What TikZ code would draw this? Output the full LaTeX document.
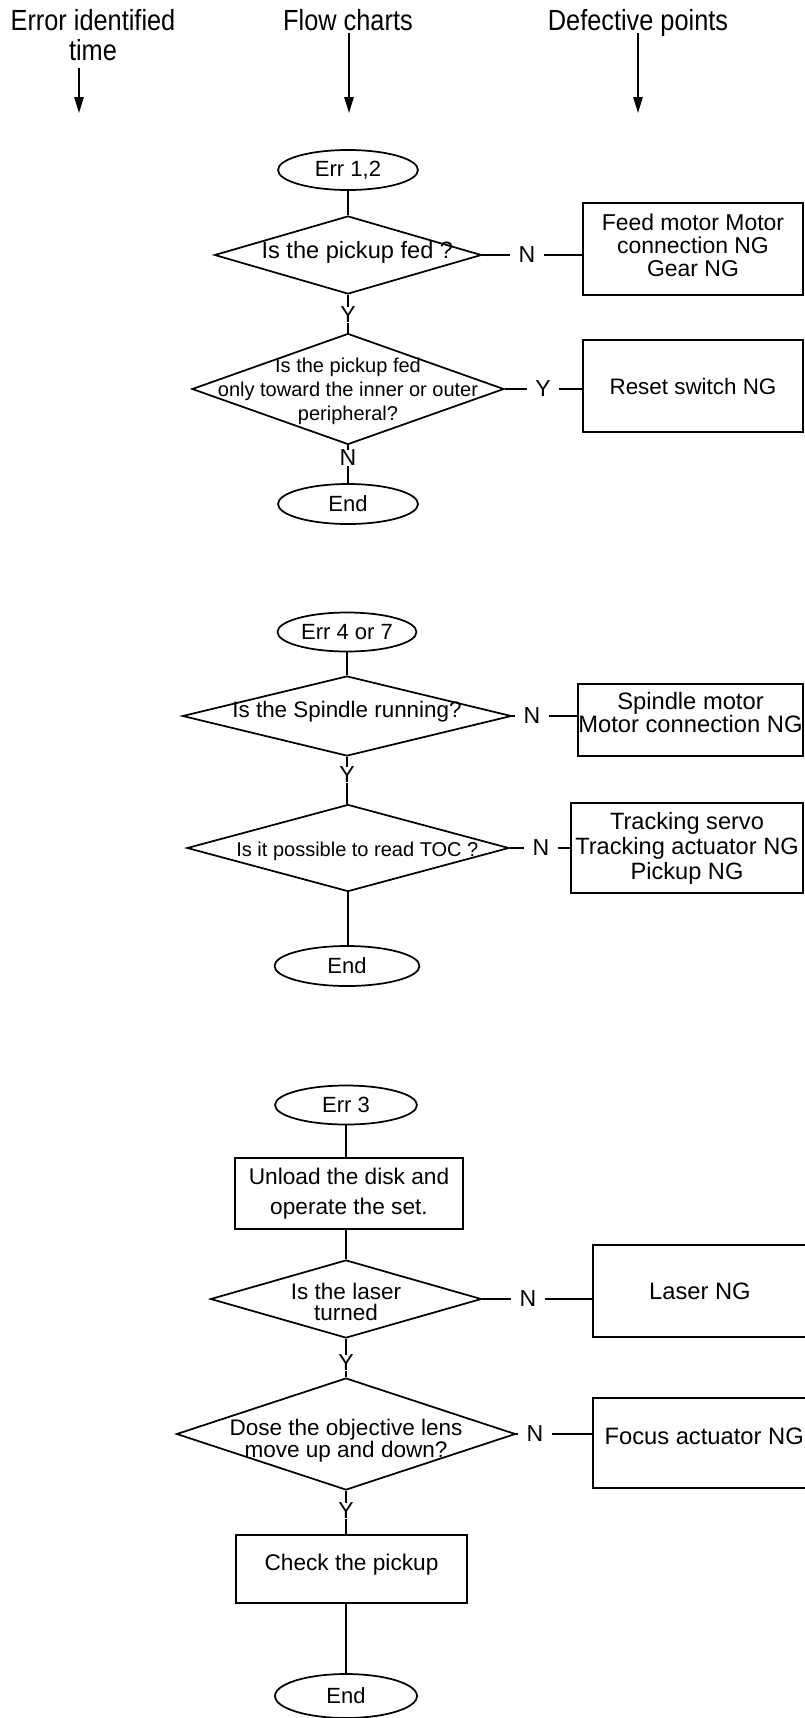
\documentclass[tikz,border=0pt]{standalone}
\usepackage{fontspec}
\setmainfont{Liberation Sans}
\usetikzlibrary{shapes.geometric,arrows.meta}
\newcommand\txtfont[2]{\fontsize{#1}{#2}\selectfont}
\begin{document}
\begin{tikzpicture}[x=0.75pt,y=-0.75pt,
  lw/.style={line width=1.3pt},
  term/.style={ellipse,draw,lw,inner sep=0pt,font=\txtfont{16.5}{18}},
  proc/.style={rectangle,draw,lw,inner sep=0pt},
  dec/.style={diamond,draw,lw,inner sep=0pt},
  txt/.style={align=center,inner sep=0pt},
  yn/.style={inner xsep=6pt,inner ysep=0pt,font=\txtfont{17.3}{18}},
  conn/.style={lw},
  hdarrow/.style={lw,-{Triangle[length=12pt,width=7pt]}},
  hdtext/.style={inner sep=0pt,anchor=base,font=\fontsize{19}{22}\selectfont},
]
\useasboundingbox (0,0) rectangle (805,1718);
\fill[white] (0,0) rectangle (805,1718);

% ---------- header ----------
\node[hdtext] (h1a) at (93,30) {\scalebox{1}[1.15]{Error identified}};
\node[hdtext] (h1b) at (93,60) {\scalebox{1}[1.15]{time}};
\node[hdtext] (h2) at (348,30) {\scalebox{1}[1.15]{Flow charts}};
\node[hdtext] (h3) at (638,30) {\scalebox{1}[1.15]{Defective points}};
\coordinate (s1) at (79,68);  \coordinate (a1) at (79,113);
\coordinate (s2) at (349,33); \coordinate (a2) at (349,113);
\coordinate (s3) at (638,33); \coordinate (a3) at (638,113);
\draw[hdarrow] (s1) -- (a1);
\draw[hdarrow] (s2) -- (a2);
\draw[hdarrow] (s3) -- (a3);

% ---------- chart 1 ----------
\node[term,minimum width=140*0.75pt,minimum height=40*0.75pt] (e12) at (348,170) {Err 1,2};
\node[dec,minimum width=267*0.75pt,minimum height=78*0.75pt,
  label={[txt,xshift=7pt,yshift=2pt,font=\txtfont{17.7}{18}]center:{Is the pickup fed ?}}] (d1) at (348,255) {};
\node[yn] (n1) at (527,255) {N};
\node[proc,minimum width=220*0.75pt,minimum height=92*0.75pt,
  label={[txt,yshift=3pt,font=\txtfont{17.2}{17.25}]center:{Feed motor Motor\\connection NG\\Gear NG}}] (b1) at (693,249) {};
\node[yn] (y1) at (348,315) {Y};
\node[dec,minimum width=312*0.75pt,minimum height=111*0.75pt,
  label={[txt,yshift=-1.5pt,font=\txtfont{15}{18}]center:{Is the pickup fed\\only toward the inner or outer\\peripheral?}}] (d2) at (348,389) {};
\node[yn] (y2) at (543,389) {Y};
\node[proc,minimum width=220*0.75pt,minimum height=92*0.75pt,
  label={[txt,font=\txtfont{16.8}{18}]center:{Reset switch NG}}] (b2) at (693,386) {};
\node[yn] (n2) at (348,458) {N};
\node[term,minimum width=140*0.75pt,minimum height=40*0.75pt] (end1) at (348,504) {End};

\draw[conn] (e12.south) -- (d1.north);
\draw[conn] (d1.east) -- (n1.west);
\draw[conn] (n1.east) -- (n1.east -| b1.west);
\draw[conn] (d1.south) -- (y1.north);
\draw[conn] (y1.south) -- (d2.north);
\draw[conn] (d2.east) -- (y2.west);
\draw[conn] (y2.east) -- (y2.east -| b2.west);
\draw[conn] (d2.south) -- (n2.north);
\draw[conn] (n2.south) -- (end1.north);

% ---------- chart 2 ----------
\node[term,minimum width=139*0.75pt,minimum height=39*0.75pt] (e47) at (347,632) {Err 4 or 7};
\node[dec,minimum width=329*0.75pt,minimum height=80*0.75pt,
  label={[txt,yshift=3pt,font=\txtfont{16.8}{18}]center:{Is the Spindle running?}}] (d3) at (347,716) {};
\node[yn] (n3) at (532,716) {N};
\node[proc,minimum width=225*0.75pt,minimum height=72*0.75pt,
  label={[txt,yshift=5.6pt,font=\txtfont{17.8}{15.75}]center:{Spindle motor\\Motor connection NG}}] (b3) at (690.5,720) {};
\node[yn] (y3) at (347,775) {Y};
\node[dec,minimum width=322*0.75pt,minimum height=87*0.75pt,
  label={[txt,xshift=7pt,yshift=-2.5pt,font=\txtfont{15}{18}]center:{Is it possible to read TOC ?}}] (d4) at (348,848) {};
\node[yn] (n4) at (541,848) {N};
\node[proc,minimum width=232*0.75pt,minimum height=90*0.75pt,
  label={[txt,font=\txtfont{17.7}{18.75}]center:{Tracking servo\\Tracking actuator NG\\Pickup NG}}] (b4) at (687,848) {};
\node[term,minimum width=145*0.75pt,minimum height=40*0.75pt] (end2) at (347,966) {End};

\draw[conn] (e47.south) -- (d3.north);
\draw[conn] (d3.east) -- (n3.west);
\draw[conn] (n3.east) -- (n3.east -| b3.west);
\draw[conn] (d3.south) -- (y3.north);
\draw[conn] (y3.south) -- (y3.south |- d4.north);
\draw[conn] (d4.east) -- (n4.west);
\draw[conn] (n4.east) -- (n4.east -| b4.west);
\draw[conn] (d4.south) -- (d4.south |- end2.north);

% ---------- chart 3 ----------
\node[term,minimum width=142*0.75pt,minimum height=39*0.75pt] (e3) at (346,1105) {Err 3};
\node[proc,minimum width=228*0.75pt,minimum height=71*0.75pt,
  label={[txt,font=\txtfont{17}{22.5}]center:{Unload the disk and\\operate the set.}}] (b5) at (349,1193.5) {};
\node[dec,minimum width=271*0.75pt,minimum height=78*0.75pt,
  label={[txt,yshift=-2pt,font=\txtfont{16.9}{15.75}]center:{Is the laser\\turned}}] (d5) at (346,1299) {};
\node[yn] (n5) at (528,1299) {N};
\node[proc,minimum width=217*0.75pt,minimum height=92*0.75pt,
  label={[txt,xshift=-1.2pt,font=\txtfont{17.8}{18}]center:{Laser NG}}] (b6) at (701.5,1291) {};
\node[yn] (y5) at (346,1363) {Y};
\node[dec,minimum width=339*0.75pt,minimum height=112*0.75pt,
  label={[txt,yshift=-5pt,font=\txtfont{16.9}{16.5}]center:{Dose the objective lens\\move up and down?}}] (d6) at (346,1434) {};
\node[yn] (n6) at (535,1434) {N};
\node[proc,minimum width=217*0.75pt,minimum height=90*0.75pt,
  label={[txt,xshift=2pt,yshift=5.2pt,font=\txtfont{17.8}{18}]center:{Focus actuator NG}}] (b7) at (701.5,1443) {};
\node[yn] (y6) at (346,1511) {Y};
\node[proc,minimum width=231*0.75pt,minimum height=68*0.75pt,
  label={[txt,yshift=3pt,font=\txtfont{17}{18}]center:{Check the pickup}}] (b8) at (351.5,1569) {};
\node[term,minimum width=142*0.75pt,minimum height=44*0.75pt] (end3) at (346,1696) {End};

\draw[conn] (e3.south) -- (e3.south |- b5.north);
\draw[conn] (d5.north |- b5.south) -- (d5.north);
\draw[conn] (d5.east) -- (n5.west);
\draw[conn] (n5.east) -- (n5.east -| b6.west);
\draw[conn] (d5.south) -- (y5.north);
\draw[conn] (y5.south) -- (d6.north);
\draw[conn] (d6.east) -- (n6.west);
\draw[conn] (n6.east) -- (n6.east -| b7.west);
\draw[conn] (d6.south) -- (y6.north);
\draw[conn] (y6.south) -- (y6.south |- b8.north);
\draw[conn] (end3.north |- b8.south) -- (end3.north);
\end{tikzpicture}
\end{document}
